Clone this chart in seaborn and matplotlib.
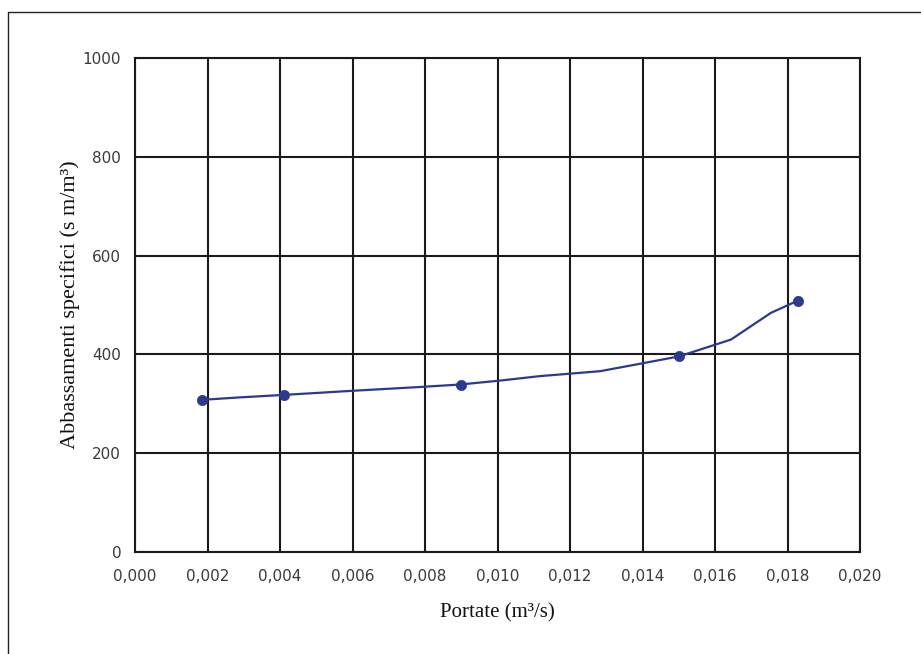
import matplotlib
matplotlib.use("Agg")
import matplotlib.pyplot as plt
from matplotlib.lines import Line2D
import seaborn as sns
import pandas as pd

# Measured points (flow rate vs specific drawdown)
portate = [0.00185, 0.0041, 0.0090, 0.0150, 0.0183]
abbassamenti = [308, 318, 339, 396, 509]

# Smoothed trend curve traced through the measurements
curva_x = [0.00185, 0.00290, 0.00411, 0.00593, 0.00786, 0.00897, 0.01007,
           0.01117, 0.01283, 0.01393, 0.01501, 0.01644, 0.01754, 0.01829]
curva_y = [308, 313, 318, 326, 334, 339, 347, 356, 366, 381, 396, 430, 484, 509]

x_ticks = [0.000, 0.002, 0.004, 0.006, 0.008, 0.010, 0.012, 0.014, 0.016, 0.018, 0.020]
y_ticks = [0, 200, 400, 600, 800, 1000]

sns.set_style("white")
plt.rcParams["font.family"] = ["DejaVu Sans"]

fig = plt.figure(figsize=(9.21, 6.54), dpi=100)
ax = fig.add_axes([0.1466, 0.1560, 0.7872, 0.7553])

punti = pd.DataFrame({"x": portate, "y": abbassamenti})
curva = pd.DataFrame({"x": curva_x, "y": curva_y})

blue = "#2b3a8f"
sns.lineplot(data=curva, x="x", y="y", ax=ax, color=blue, lw=1.6, zorder=4,
             sort=False)
sns.scatterplot(data=punti, x="x", y="y", ax=ax, color=blue, s=55,
                marker="o", edgecolor=blue, linewidth=0.5, zorder=5)

ax.set_xlim(0, 0.020)
ax.set_ylim(0, 1000)
ax.set_xticks(x_ticks)
ax.set_yticks(y_ticks)
ax.set_xticklabels([f"{v:.3f}".replace(".", ",") for v in x_ticks])
ax.set_yticklabels([str(v) for v in y_ticks])
ax.grid(True, color="#1a1a1a", lw=1.5)
ax.set_axisbelow(True)
for s in ax.spines.values():
    s.set_color("#1a1a1a")
    s.set_linewidth(1.5)

ax.tick_params(axis="both", which="major", direction="out", length=6,
               width=1.3, color="#1a1a1a", labelsize=11,
               labelcolor="#3a3a3a", pad=4)
ax.tick_params(axis="x", pad=6)

serif = ["Liberation Serif", "DejaVu Serif"]
ax.set_xlabel("Portate (m³/s)", family=serif, fontsize=15, color="#111111",
              labelpad=14)
ax.set_ylabel("Abbassamenti specifici (s m/m³)", family=serif, fontsize=16,
              color="#111111", labelpad=2)

# Page frame lines (top and left)
fig.add_artist(Line2D([0.0087, 1.0], [0.9817, 0.9817], transform=fig.transFigure,
                      color="#222222", lw=1.0))
fig.add_artist(Line2D([0.0087, 0.0087], [0.0, 0.9817], transform=fig.transFigure,
                      color="#222222", lw=1.0))

fig.savefig("out.png", dpi=100, facecolor="white")
